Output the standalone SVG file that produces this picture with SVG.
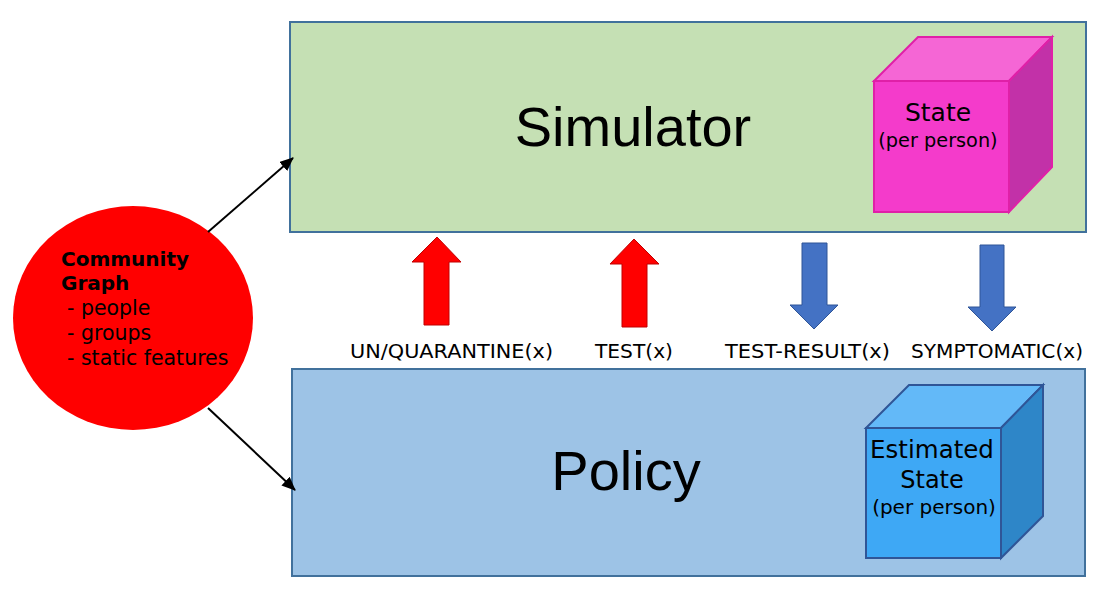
<svg xmlns="http://www.w3.org/2000/svg" width="1102" height="602" viewBox="0 0 1102 602">
<style>
.v{font-family:"DejaVu Sans",Verdana,sans-serif;fill:#000}
.big{font-family:"Liberation Sans",Arial,sans-serif;font-size:56px;fill:#000;text-anchor:middle}
.lbl{font-family:"DejaVu Sans",Verdana,sans-serif;font-size:19.5px;fill:#000}
.up{fill:#ff0000;stroke:#c00000;stroke-width:1}
.down{fill:#4472c4;stroke:#2f5597;stroke-width:1}
</style>
<defs>
<marker id="ah" markerWidth="14" markerHeight="12" refX="13" refY="6" orient="auto" markerUnits="userSpaceOnUse" viewBox="0 0 14 12">
<path d="M0,0 L14,6 L0,12 z" fill="#000"/>
</marker>
</defs>
<rect width="1102" height="602" fill="#fff"/>
<g id="simulator">
<rect x="290" y="22" width="796" height="210" fill="#c5e0b4" stroke="#41719c" stroke-width="2"/>
<text class="big" x="633" y="146">Simulator</text>
</g>
<g id="state-cube">
<polygon points="874,81 918,37 1052,37 1009,81" fill="#f566d5" stroke="#e020a8" stroke-width="2"/>
<polygon points="1009,81 1052,37 1052,167 1009,212" fill="#c231a8" stroke="#e020a8" stroke-width="2"/>
<rect x="874" y="81" width="135" height="131" fill="#f43bcb" stroke="#e020a8" stroke-width="2"/>
<text class="v" x="938" y="121" font-size="25" text-anchor="middle">State</text>
<text class="v" x="938" y="147" font-size="19.3" text-anchor="middle">(per person)</text>
</g>
<g id="policy">
<rect x="292" y="369" width="793" height="207" fill="#9dc3e6" stroke="#41719c" stroke-width="2"/>
<text class="big" x="626" y="490">Policy</text>
</g>
<g id="estimated-cube">
<polygon points="866,428 909,385 1043,385 1001,428" fill="#63b9f8" stroke="#2f5597" stroke-width="2"/>
<polygon points="1001,428 1043,385 1043,516 1001,558" fill="#2e86c8" stroke="#2f5597" stroke-width="2"/>
<rect x="866" y="428" width="135" height="130" fill="#3ea8f5" stroke="#2f5597" stroke-width="2"/>
<text class="v" x="932" y="458" font-size="24.5" text-anchor="middle">Estimated</text>
<text class="v" x="932" y="488" font-size="24" text-anchor="middle">State</text>
<text class="v" x="934" y="514" font-size="20" text-anchor="middle">(per person)</text>
</g>
<g id="community-graph">
<ellipse cx="133" cy="318" rx="120" ry="112" fill="#ff0000"/>
<text class="v" x="61" y="266" font-size="20" font-weight="bold">Community</text>
<text class="v" x="61" y="290" font-size="20" font-weight="bold">Graph</text>
<text class="v" x="67" y="315" font-size="20.5">- people</text>
<text class="v" x="67" y="340" font-size="20.5">- groups</text>
<text class="v" x="67" y="365" font-size="20.5">- static features</text>
</g>
<g id="connectors">
<line x1="208" y1="232" x2="293" y2="158" stroke="#000" stroke-width="2" marker-end="url(#ah)"/>
<line x1="208" y1="408" x2="295" y2="490" stroke="#000" stroke-width="2" marker-end="url(#ah)"/>
<polygon class="up" points="424,325 424,262 412,262 437,237 461,262 449,262 449,325"/>
<polygon class="up" points="622,327 622,264 610,264 634,239 659,264 647,264 647,327"/>
<polygon class="down" points="802,243 827,243 827,305 838,305 814,329 790,305 802,305"/>
<polygon class="down" points="980,245 1004,245 1004,307 1016,307 992,331 968,307 980,307"/>
</g>
<g id="labels">
<text class="lbl" x="350" y="358" textLength="203" lengthAdjust="spacingAndGlyphs">UN/QUARANTINE(x)</text>
<text class="lbl" x="595" y="358" textLength="78" lengthAdjust="spacingAndGlyphs">TEST(x)</text>
<text class="lbl" x="725" y="358" textLength="165" lengthAdjust="spacingAndGlyphs">TEST-RESULT(x)</text>
<text class="lbl" x="911" y="358" textLength="172" lengthAdjust="spacingAndGlyphs">SYMPTOMATIC(x)</text>
</g>
</svg>
